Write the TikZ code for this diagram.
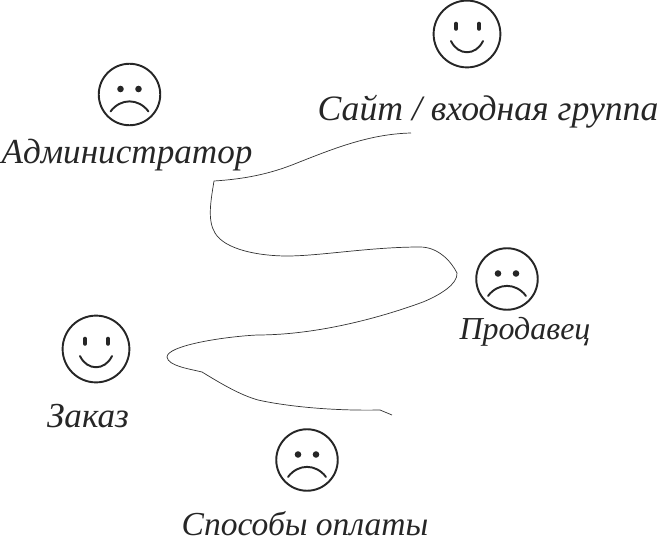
\documentclass[tikz,border=0pt]{standalone}
\usepackage{fontspec}
\setmainfont{Liberation Serif}
\tikzset{
  label text/.style={font=\itshape\fontsize{20}{24}\selectfont,anchor=base,inner sep=0pt,text=black!85},
  face/.style={draw=black!85,circle,line width=1.1pt,inner sep=0pt,outer sep=0pt},
  feature/.style={draw=black!85,line width=1.1pt,line cap=round},
  eye/.style={draw=black!85,line width=2pt,line cap=round},
  dot/.style={fill=black!85},
  wiggle/.style={draw=black!80,line width=0.4pt},
  smileface/.pic={
    \node[face,minimum size=38pt] (-ring) at (0,0) {};
    \draw[eye] (-11,-10.5) -- (-11,-5);
    \draw[eye] (12,-10.5) -- (12,-5);
    \draw[feature] (-16,7) .. controls (-9,22) and (9,22) .. (16,7);
  },
  sadface/.pic={
    \node[face,minimum size=35pt] (-ring) at (0,0) {};
    \fill[dot] (-9,-5.5) circle (3.3);
    \fill[dot] (9,-5.5) circle (3.3);
    \draw[feature] (-19,17) .. controls (-9,3.5) and (9,3.5) .. (19,17);
  }
}
\begin{document}
\begin{tikzpicture}[x=0.02cm,y=-0.02cm]
    \useasboundingbox (0,0) rectangle (657,541);
    % Faces
    \pic (site) at (467,34) {smileface};
    \pic (admin) at (129.5,94.5) {sadface};
    \pic (seller) at (507,279) {sadface};
    \pic (order) at (96,349) {smileface};
    \pic (payment) at (307,460) {sadface};
    % Labels
    \node[label text,font=\itshape\fontsize{20.3}{24}\selectfont] (siteLabel) at (488,120) {Сайт / входная группа};
    \node[label text] (adminLabel) at (127,163) {Администратор};
    \node[label text,font=\itshape\fontsize{18.2}{24}\selectfont] (sellerLabel) at (525,339) {Продавец};
    \node[label text] (orderLabel) at (88,427) {Заказ};
    \node[label text,font=\itshape\fontsize{19.1}{24}\selectfont] (paymentLabel) at (305,535) {Способы оплаты};
    % Line through the points
    \coordinate (lineStart) at (411,133);
    \coordinate (cornerTop) at (214,181);
    \coordinate (tipRight) at (457,273);
    \coordinate (tipLeft) at (167,357);
    \coordinate (cornerLow) at (202,372);
    \coordinate (cornerEnd) at (380,410);
    \coordinate (lineEnd) at (392,415);
    \draw[wiggle] (lineStart) .. controls (370,134) and (335,148) .. (297,163) .. controls (270,174) and (245,179) .. (cornerTop);
    \draw[wiggle] (cornerTop) .. controls (211,200) and (207,220) .. (215,233) .. controls (225,250) and (260,256) .. (287,256) .. controls (320,256) and (370,247) .. (420,247) .. controls (438,247) and (451,261) .. (tipRight);
    \draw[wiggle] (tipRight) .. controls (458,284) and (440,295) .. (423,302) .. controls (385,316) and (320,335) .. (257,335) .. controls (220,337) and (167,346) .. (tipLeft);
    \draw[wiggle] (tipLeft) .. controls (168,366) and (190,369) .. (cornerLow);
    \draw[wiggle] (cornerLow) .. controls (220,383) and (240,395) .. (258,400) .. controls (285,406) and (330,411) .. (cornerEnd);
    \draw[wiggle] (cornerEnd) -- (lineEnd);
\end{tikzpicture}
\end{document}
